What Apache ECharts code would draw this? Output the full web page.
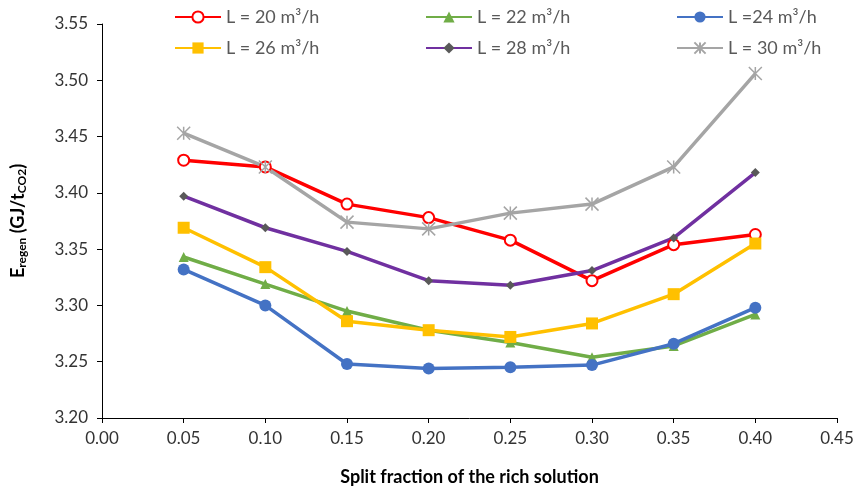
<!DOCTYPE html>
<html>
<head>
<meta charset="utf-8">
<script src="https://cdn.jsdelivr.net/npm/echarts@6/dist/echarts.min.js"></script>
<style>
  html, body { margin: 0; padding: 0; background: #ffffff; }
  #chart { width: 854px; height: 490px; }
</style>
</head>
<body>
<div id="chart"></div>
<script>
// Split fraction of the rich solution (x values)
const splitFractions = [0.05, 0.10, 0.15, 0.20, 0.25, 0.30, 0.35, 0.40];

// Regeneration energy (GJ/tCO2) for each liquid flow rate
const regenL20 = [3.429, 3.423, 3.390, 3.378, 3.358, 3.322, 3.354, 3.363];
const regenL22 = [3.343, 3.319, 3.295, 3.278, 3.267, 3.254, 3.264, 3.292];
const regenL24 = [3.332, 3.300, 3.248, 3.244, 3.245, 3.247, 3.266, 3.298];
const regenL26 = [3.369, 3.334, 3.286, 3.278, 3.272, 3.284, 3.310, 3.355];
const regenL28 = [3.397, 3.369, 3.348, 3.322, 3.318, 3.331, 3.360, 3.418];
const regenL30 = [3.453, 3.423, 3.374, 3.368, 3.382, 3.390, 3.423, 3.506];

const seriesNames = ['L = 20 m³/h', 'L = 22 m³/h', 'L =24 m³/h', 'L = 26 m³/h', 'L = 28 m³/h', 'L = 30 m³/h'];

const FONT = 'Lato, "Open Sans", sans-serif';
const asterisk = 'path://M0,0 L10,10 M10,0 L0,10 M5,0 L5,10';

function pairs(values) {
  return splitFractions.map((x, i) => [x, values[i]]);
}

function lineSeries(name, values, color, symbol, size, itemStyle) {
  return {
    name: name,
    type: 'line',
    data: pairs(values),
    symbol: symbol,
    symbolSize: size,
    showSymbol: true,
    lineStyle: { color: color, width: 3.5 },
    itemStyle: Object.assign({ color: color }, itemStyle || {}),
    emphasis: { disabled: true },
    z: 2
  };
}

const chart = echarts.init(document.getElementById('chart'), null, { renderer: 'canvas' });

const legendCommon = {
  orient: 'vertical',
  itemWidth: 46,
  itemHeight: 14,
  itemGap: 13,
  textStyle: { color: '#595959', fontSize: 18, lineHeight: 18, fontFamily: FONT },
  selectedMode: false
};

chart.setOption({
  animation: false,
  backgroundColor: '#ffffff',
  grid: { left: 102, right: 17, top: 24, bottom: 72, containLabel: false, outerBoundsMode: 'none' },
  legend: [
    Object.assign({ left: 169, top: 3, data: [seriesNames[0], seriesNames[3]] }, legendCommon),
    Object.assign({ left: 420, top: 3, data: [seriesNames[1], seriesNames[4]] }, legendCommon),
    Object.assign({ left: 671, top: 3, data: [seriesNames[2], seriesNames[5]] }, legendCommon)
  ],
  xAxis: {
    type: 'value',
    min: 0,
    max: 0.45,
    interval: 0.05,
    name: 'Split fraction of the rich solution',
    nameLocation: 'middle',
    nameGap: 50,
    nameTextStyle: { color: '#000000', fontSize: 18, fontWeight: 'bold', fontFamily: FONT },
    axisLine: { show: true, lineStyle: { color: '#000000', width: 1 } },
    axisTick: { show: true, inside: false, length: 5, lineStyle: { color: '#000000' } },
    axisLabel: { color: '#333333', fontSize: 17, fontFamily: FONT, margin: 12,
      formatter: v => v.toFixed(2) },
    splitLine: { show: false }
  },
  yAxis: {
    type: 'value',
    min: 3.2,
    max: 3.55,
    interval: 0.05,
    name: '{main|E}{sub|regen}{main| (GJ/t}{sub|CO2}{main|)}',
    nameLocation: 'middle',
    nameRotate: 90,
    nameGap: 74,
    nameTextStyle: {
      rich: {
        main: { fontSize: 18, fontWeight: 'bold', color: '#000000', fontFamily: FONT },
        sub: { fontSize: 12, fontWeight: 'bold', color: '#000000', fontFamily: FONT, verticalAlign: 'bottom', padding: [7, 0, 0, 0] }
      }
    },
    axisLine: { show: true, lineStyle: { color: '#000000', width: 1 } },
    axisTick: { show: true, inside: false, length: 5, lineStyle: { color: '#000000' } },
    axisLabel: { color: '#333333', fontSize: 17, fontFamily: FONT, margin: 14,
      formatter: v => v.toFixed(2) },
    splitLine: { show: false }
  },
  series: [
    lineSeries(seriesNames[0], regenL20, '#FF0000', 'emptyCircle', 11, { borderWidth: 1.5, color: '#FF0000' }),
    lineSeries(seriesNames[1], regenL22, '#70AD47', 'triangle', 10),
    lineSeries(seriesNames[2], regenL24, '#4472C4', 'circle', 12),
    lineSeries(seriesNames[3], regenL26, '#FFC000', 'rect', 12),
    Object.assign(lineSeries(seriesNames[4], regenL28, '#7030A0', 'diamond', 9), { itemStyle: { color: '#595959' } }),
    lineSeries(seriesNames[5], regenL30, '#A5A5A5', asterisk, 13, { borderColor: '#A5A5A5', borderWidth: 1.5 })
  ]
});
</script>
</body>
</html>
